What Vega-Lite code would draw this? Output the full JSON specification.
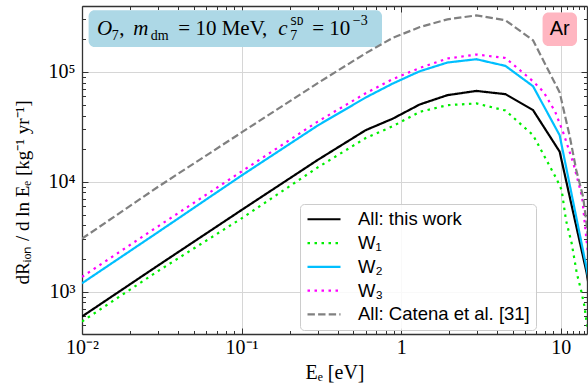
{
  "$schema": "https://vega.github.io/schema/vega-lite/v6.json",
  "width": 505,
  "height": 328,
  "autosize": {"type": "none"},
  "padding": {"left": 82, "top": 6, "right": 1, "bottom": 52},
  "background": "white",
  "config": {"view": {"stroke": null}},
  "datasets": {
    "curves": [
      {"E": 0.01, "R": 593, "s": "All: this work"},
      {"E": 0.03, "R": 1730, "s": "All: this work"},
      {"E": 0.1, "R": 5530, "s": "All: this work"},
      {"E": 0.3, "R": 15800, "s": "All: this work"},
      {"E": 0.6, "R": 29500, "s": "All: this work"},
      {"E": 0.885, "R": 37500, "s": "All: this work"},
      {"E": 1.31, "R": 50600, "s": "All: this work"},
      {"E": 1.95, "R": 61400, "s": "All: this work"},
      {"E": 2.96, "R": 67100, "s": "All: this work"},
      {"E": 4.5, "R": 62700, "s": "All: this work"},
      {"E": 6.7, "R": 44900, "s": "All: this work"},
      {"E": 9.84, "R": 18800, "s": "All: this work"},
      {"E": 14.5, "R": 1500, "s": "All: this work"},
      {"E": 21, "R": 60, "s": "All: this work"},

      {"E": 0.01, "R": 534, "s": "W₁"},
      {"E": 0.03, "R": 1540, "s": "W₁"},
      {"E": 0.1, "R": 4640, "s": "W₁"},
      {"E": 0.3, "R": 13500, "s": "W₁"},
      {"E": 0.6, "R": 25000, "s": "W₁"},
      {"E": 0.885, "R": 32000, "s": "W₁"},
      {"E": 1.31, "R": 43300, "s": "W₁"},
      {"E": 1.95, "R": 49800, "s": "W₁"},
      {"E": 2.96, "R": 51600, "s": "W₁"},
      {"E": 4.5, "R": 44500, "s": "W₁"},
      {"E": 6.7, "R": 26600, "s": "W₁"},
      {"E": 7.38, "R": 20500, "s": "W₁"},
      {"E": 7.94, "R": 16800, "s": "W₁"},
      {"E": 8.73, "R": 13000, "s": "W₁"},
      {"E": 9.42, "R": 10600, "s": "W₁"},
      {"E": 10.13, "R": 8400, "s": "W₁"},
      {"E": 10.78, "R": 4470, "s": "W₁"},
      {"E": 11.7, "R": 2760, "s": "W₁"},
      {"E": 12.6, "R": 1470, "s": "W₁"},
      {"E": 13.35, "R": 1054, "s": "W₁"},
      {"E": 14.03, "R": 753, "s": "W₁"},
      {"E": 14.45, "R": 551, "s": "W₁"},
      {"E": 16, "R": 250, "s": "W₁"},

      {"E": 0.01, "R": 1190, "s": "W₂"},
      {"E": 0.03, "R": 3480, "s": "W₂"},
      {"E": 0.1, "R": 11400, "s": "W₂"},
      {"E": 0.3, "R": 32500, "s": "W₂"},
      {"E": 0.6, "R": 58500, "s": "W₂"},
      {"E": 0.885, "R": 78300, "s": "W₂"},
      {"E": 1.31, "R": 101500, "s": "W₂"},
      {"E": 1.95, "R": 121700, "s": "W₂"},
      {"E": 2.96, "R": 130400, "s": "W₂"},
      {"E": 4.5, "R": 113400, "s": "W₂"},
      {"E": 6.7, "R": 74100, "s": "W₂"},
      {"E": 9.84, "R": 26500, "s": "W₂"},
      {"E": 14.5, "R": 1650, "s": "W₂"},
      {"E": 21, "R": 60, "s": "W₂"},

      {"E": 0.01, "R": 1360, "s": "W₃"},
      {"E": 0.03, "R": 3930, "s": "W₃"},
      {"E": 0.1, "R": 12400, "s": "W₃"},
      {"E": 0.3, "R": 35300, "s": "W₃"},
      {"E": 0.6, "R": 64000, "s": "W₃"},
      {"E": 0.885, "R": 86000, "s": "W₃"},
      {"E": 1.31, "R": 108700, "s": "W₃"},
      {"E": 1.95, "R": 132400, "s": "W₃"},
      {"E": 2.96, "R": 143900, "s": "W₃"},
      {"E": 4.5, "R": 134000, "s": "W₃"},
      {"E": 6.7, "R": 82200, "s": "W₃"},
      {"E": 7.8, "R": 65800, "s": "W₃"},
      {"E": 9.23, "R": 43300, "s": "W₃"},
      {"E": 10.4, "R": 27600, "s": "W₃"},
      {"E": 12.0, "R": 14700, "s": "W₃"},
      {"E": 13.6, "R": 7300, "s": "W₃"},
      {"E": 14.5, "R": 2940, "s": "W₃"},
      {"E": 17, "R": 300, "s": "W₃"},

      {"E": 0.01, "R": 3030, "s": "All: Catena et al. [31]"},
      {"E": 0.03, "R": 9000, "s": "All: Catena et al. [31]"},
      {"E": 0.1, "R": 28100, "s": "All: Catena et al. [31]"},
      {"E": 0.3, "R": 79000, "s": "All: Catena et al. [31]"},
      {"E": 0.6, "R": 148000, "s": "All: Catena et al. [31]"},
      {"E": 0.885, "R": 204000, "s": "All: Catena et al. [31]"},
      {"E": 1.31, "R": 256000, "s": "All: Catena et al. [31]"},
      {"E": 1.95, "R": 301000, "s": "All: Catena et al. [31]"},
      {"E": 2.96, "R": 327000, "s": "All: Catena et al. [31]"},
      {"E": 4.5, "R": 295000, "s": "All: Catena et al. [31]"},
      {"E": 6.7, "R": 194000, "s": "All: Catena et al. [31]"},
      {"E": 9.84, "R": 65000, "s": "All: Catena et al. [31]"},
      {"E": 11.4, "R": 25600, "s": "All: Catena et al. [31]"},
      {"E": 12.5, "R": 12800, "s": "All: Catena et al. [31]"},
      {"E": 13.8, "R": 7300, "s": "All: Catena et al. [31]"},
      {"E": 14.5, "R": 4200, "s": "All: Catena et al. [31]"},
      {"E": 17, "R": 400, "s": "All: Catena et al. [31]"}
    ]
  },
  "layer": [
    {
      "data": {"values": [{}]},
      "mark": {"type": "rect", "fill": "#add8e6", "cornerRadius": 6},
      "encoding": {
        "x": {"datum": 0.011, "type": "quantitative", "axis": null},
        "x2": {"datum": 0.7583},
        "y": {"datum": 364000, "type": "quantitative", "axis": null},
        "y2": {"datum": 168700}
      }
    },
    {
      "data": {"values": [{}]},
      "mark": {"type": "rect", "fill": "#ffb6c1", "cornerRadius": 6},
      "encoding": {
        "x": {"datum": 7.69, "type": "quantitative", "axis": null},
        "x2": {"datum": 12.64},
        "y": {"datum": 346700, "type": "quantitative", "axis": null},
        "y2": {"datum": 172000}
      }
    },
    {
      "data": {"name": "curves"},
      "mark": {"type": "line", "clip": true, "strokeWidth": 2.2},
      "encoding": {
        "x": {
          "field": "E", "type": "quantitative",
          "scale": {"type": "log", "domain": [0.01, 14.6], "nice": false},
          "axis": {
            "orient": "bottom",
            "values": [0.01,0.02,0.03,0.04,0.05,0.06,0.07,0.08,0.09,0.1,0.2,0.3,0.4,0.5,0.6,0.7,0.8,0.9,1,2,3,4,5,6,7,8,9,10,11,12,13,14],
            "labelExpr": "datum.value == 0.01 ? '10⁻²' : datum.value == 0.1 ? '10⁻¹' : datum.value == 1 ? '1' : datum.value == 10 ? '10' : ''",
            "labelFont": "Liberation Serif", "labelFontSize": 20, "labelColor": "black",
            "labelOverlap": false, "labelFlush": false, "labelBound": false, "labelPadding": 9,
            "grid": true, "gridColor": "#d6d6d6", "gridWidth": 1,
            "gridOpacity": {"condition": {"test": "abs(log(datum.value)/LN10 - round(log(datum.value)/LN10)) < 0.001", "value": 1}, "value": 0},
            "tickSize": {"condition": {"test": "abs(log(datum.value)/LN10 - round(log(datum.value)/LN10)) < 0.001", "value": -6}, "value": -3.5},
            "tickColor": "#333333", "tickWidth": 1,
            "domainColor": "#333333", "domainWidth": 1.3,
            "title": "Eₑ [eV]", "titleFont": "Liberation Serif", "titleFontSize": 20, "titleFontWeight": "normal", "titleColor": "black", "titlePadding": 3
          }
        },
        "y": {
          "field": "R", "type": "quantitative",
          "scale": {"type": "log", "domain": [411, 398000], "nice": false},
          "axis": {
            "orient": "left",
            "values": [500,600,700,800,900,1000,2000,3000,4000,5000,6000,7000,8000,9000,10000,20000,30000,40000,50000,60000,70000,80000,90000,100000,200000,300000],
            "labelExpr": "datum.value == 1000 ? '10³' : datum.value == 10000 ? '10⁴' : datum.value == 100000 ? '10⁵' : ''",
            "labelFont": "Liberation Serif", "labelFontSize": 20, "labelColor": "black",
            "labelOverlap": false, "labelBound": false, "labelPadding": 13,
            "grid": true, "gridColor": "#d6d6d6", "gridWidth": 1,
            "gridOpacity": {"condition": {"test": "abs(log(datum.value)/LN10 - round(log(datum.value)/LN10)) < 0.001", "value": 1}, "value": 0},
            "tickSize": {"condition": {"test": "abs(log(datum.value)/LN10 - round(log(datum.value)/LN10)) < 0.001", "value": -6}, "value": -3.5},
            "tickColor": "#333333", "tickWidth": 1,
            "domainColor": "#333333", "domainWidth": 1.3,
            "title": "dRᵢₒₙ / d ln Eₑ  [kg⁻¹ yr⁻¹]", "titleFont": "Liberation Serif", "titleFontSize": 19, "titleFontWeight": "normal", "titleColor": "black",
            "titleX": -60, "titleY": 186, "titleBaseline": "middle", "titleAlign": "center", "titleAngle": -90
          }
        },
        "color": {
          "field": "s", "type": "nominal",
          "scale": {"domain": ["All: this work", "W₁", "W₂", "W₃", "All: Catena et al. [31]"], "range": ["black", "#00ee00", "#00bfff", "#ff00ff", "#808080"]},
          "legend": {"title": null, "orient": "none", "legendX": 218, "legendY": 198, "symbolType": "stroke", "symbolSize": 1089, "symbolStrokeWidth": 2.2, "clipHeight": 18.5, "rowPadding": 4.8, "labelFont": "Liberation Sans", "labelFontSize": 18.5, "labelColor": "black", "labelOffset": 16, "labelLimit": 400, "padding": 6, "fillColor": "rgba(255,255,255,0.85)", "strokeColor": "#cccccc", "cornerRadius": 4}
        },
        "strokeDash": {
          "field": "s", "type": "nominal",
          "scale": {"domain": ["All: this work", "W₁", "W₂", "W₃", "All: Catena et al. [31]"], "range": [[1, 0], [2.5, 4.5], [1, 0], [2.5, 4.5], [7.4, 3.2]]},
          "legend": {"title": null, "orient": "none", "legendX": 218, "legendY": 198, "symbolType": "stroke", "symbolSize": 1089, "symbolStrokeWidth": 2.2, "clipHeight": 18.5, "rowPadding": 4.8, "labelFont": "Liberation Sans", "labelFontSize": 18.5, "labelColor": "black", "labelOffset": 16, "labelLimit": 400, "padding": 6, "fillColor": "rgba(255,255,255,0.85)", "strokeColor": "#cccccc", "cornerRadius": 4}
        }
      }
    },
    {
      "data": {"name": "curves"},
      "mark": {"type": "point", "opacity": 0},
      "encoding": {
        "x": {
          "field": "E", "type": "quantitative",
          "scale": {"type": "log", "domain": [0.01, 14.6], "nice": false},
          "axis": {
            "orient": "top", "labels": false, "grid": false, "title": null,
            "values": [0.01,0.02,0.03,0.04,0.05,0.06,0.07,0.08,0.09,0.1,0.2,0.3,0.4,0.5,0.6,0.7,0.8,0.9,1,2,3,4,5,6,7,8,9,10,11,12,13,14],
            "tickSize": {"condition": {"test": "abs(log(datum.value)/LN10 - round(log(datum.value)/LN10)) < 0.001", "value": -6}, "value": -3.5},
            "tickColor": "#333333", "tickWidth": 1,
            "domainColor": "#333333", "domainWidth": 1.3
          }
        },
        "y": {
          "field": "R", "type": "quantitative",
          "scale": {"type": "log", "domain": [411, 398000], "nice": false},
          "axis": {
            "orient": "right", "labels": false, "grid": false, "title": null,
            "values": [500,600,700,800,900,1000,2000,3000,4000,5000,6000,7000,8000,9000,10000,20000,30000,40000,50000,60000,70000,80000,90000,100000,200000,300000],
            "tickSize": {"condition": {"test": "abs(log(datum.value)/LN10 - round(log(datum.value)/LN10)) < 0.001", "value": -6}, "value": -3.5},
            "tickColor": "#333333", "tickWidth": 1,
            "domainColor": "#333333", "domainWidth": 1.3
          }
        }
      }
    },
    {
      "data": {"values": [{}]},
      "mark": {"type": "text", "text": "O", "font": "Liberation Serif", "fontSize": 21, "fontStyle": "italic", "align": "left", "baseline": "alphabetic", "color": "black"},
      "encoding": {"x": {"datum": 0.01242, "type": "quantitative", "axis": null}, "y": {"datum": 215600, "type": "quantitative", "axis": null}}
    },
    {
      "data": {"values": [{}]},
      "mark": {"type": "text", "text": "7", "font": "Liberation Serif", "fontSize": 14, "align": "left", "baseline": "alphabetic", "color": "black"},
      "encoding": {"x": {"datum": 0.01537, "type": "quantitative", "axis": null}, "y": {"datum": 194200, "type": "quantitative", "axis": null}}
    },
    {
      "data": {"values": [{}]},
      "mark": {"type": "text", "text": ",", "font": "Liberation Serif", "fontSize": 21, "align": "left", "baseline": "alphabetic", "color": "black"},
      "encoding": {"x": {"datum": 0.01713, "type": "quantitative", "axis": null}, "y": {"datum": 215600, "type": "quantitative", "axis": null}}
    },
    {
      "data": {"values": [{}]},
      "mark": {"type": "text", "text": "m", "font": "Liberation Serif", "fontSize": 21, "fontStyle": "italic", "align": "left", "baseline": "alphabetic", "color": "black"},
      "encoding": {"x": {"datum": 0.02097, "type": "quantitative", "axis": null}, "y": {"datum": 215600, "type": "quantitative", "axis": null}}
    },
    {
      "data": {"values": [{}]},
      "mark": {"type": "text", "text": "dm", "font": "Liberation Serif", "fontSize": 14, "align": "left", "baseline": "alphabetic", "color": "black"},
      "encoding": {"x": {"datum": 0.02698, "type": "quantitative", "axis": null}, "y": {"datum": 194200, "type": "quantitative", "axis": null}}
    },
    {
      "data": {"values": [{}]},
      "mark": {"type": "text", "text": "= 10 MeV,", "font": "Liberation Serif", "fontSize": 21, "align": "left", "baseline": "alphabetic", "color": "black"},
      "encoding": {"x": {"datum": 0.04012, "type": "quantitative", "axis": null}, "y": {"datum": 215600, "type": "quantitative", "axis": null}}
    },
    {
      "data": {"values": [{}]},
      "mark": {"type": "text", "text": "c", "font": "Liberation Serif", "fontSize": 21, "fontStyle": "italic", "align": "left", "baseline": "alphabetic", "color": "black"},
      "encoding": {"x": {"datum": 0.1698, "type": "quantitative", "axis": null}, "y": {"datum": 215600, "type": "quantitative", "axis": null}}
    },
    {
      "data": {"values": [{}]},
      "mark": {"type": "text", "text": "7", "font": "Liberation Serif", "fontSize": 14, "align": "left", "baseline": "alphabetic", "color": "black"},
      "encoding": {"x": {"datum": 0.2018, "type": "quantitative", "axis": null}, "y": {"datum": 194200, "type": "quantitative", "axis": null}}
    },
    {
      "data": {"values": [{}]},
      "mark": {"type": "text", "text": "SD", "font": "DejaVu Sans Mono", "fontSize": 11, "align": "left", "baseline": "alphabetic", "color": "black"},
      "encoding": {"x": {"datum": 0.2018, "type": "quantitative", "axis": null}, "y": {"datum": 265800, "type": "quantitative", "axis": null}}
    },
    {
      "data": {"values": [{}]},
      "mark": {"type": "text", "text": "= 10", "font": "Liberation Serif", "fontSize": 21, "align": "left", "baseline": "alphabetic", "color": "black"},
      "encoding": {"x": {"datum": 0.2773, "type": "quantitative", "axis": null}, "y": {"datum": 215600, "type": "quantitative", "axis": null}}
    },
    {
      "data": {"values": [{}]},
      "mark": {"type": "text", "text": "−3", "font": "Liberation Serif", "fontSize": 14, "align": "left", "baseline": "alphabetic", "color": "black"},
      "encoding": {"x": {"datum": 0.4974, "type": "quantitative", "axis": null}, "y": {"datum": 265800, "type": "quantitative", "axis": null}}
    },
    {
      "data": {"values": [{}]},
      "mark": {"type": "text", "text": "Ar", "font": "Liberation Sans", "fontSize": 20, "align": "center", "baseline": "middle", "color": "black"},
      "encoding": {"x": {"datum": 9.856, "type": "quantitative", "axis": null}, "y": {"datum": 244400, "type": "quantitative", "axis": null}}
    }
  ],
  "resolve": {"axis": {"x": "independent", "y": "independent"}}
}
